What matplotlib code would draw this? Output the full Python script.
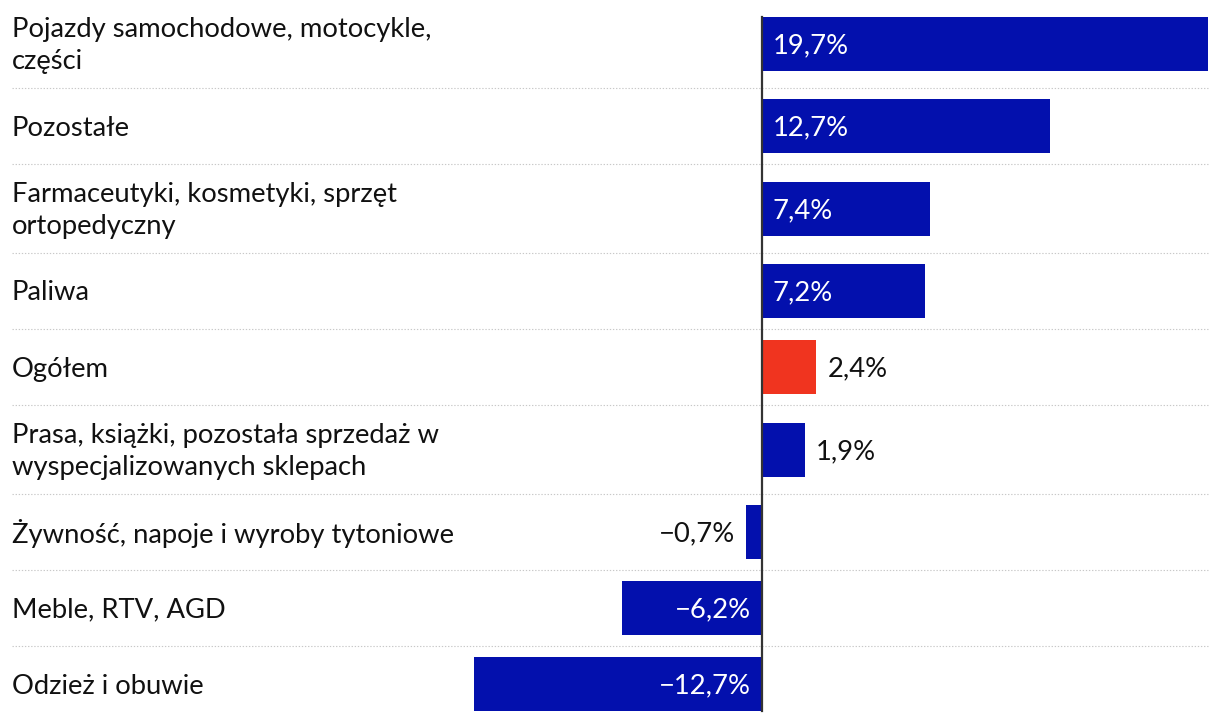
import matplotlib
matplotlib.use("Agg")
import matplotlib.pyplot as plt

plt.rcParams['font.family'] = ['Lato', 'DejaVu Sans']

# data
categories = [
    "Pojazdy samochodowe, motocykle,\nczęści",
    "Pozostałe",
    "Farmaceutyki, kosmetyki, sprzęt\nortopedyczny",
    "Paliwa",
    "Ogółem",
    "Prasa, książki, pozostała sprzedaż w\nwyspecjalizowanych sklepach",
    "Żywność, napoje i wyroby tytoniowe",
    "Meble, RTV, AGD",
    "Odzież i obuwie",
]
values = [19.7, 12.7, 7.4, 7.2, 2.4, 1.9, -0.7, -6.2, -12.7]
highlight = "Ogółem"

BLUE = '#0310ad'
RED = '#f0341f'
FS = 19.7

fig = plt.figure(figsize=(12.2, 7.22), dpi=100)
ax = fig.add_axes([0, 0, 1, 1])
ax.set_axis_off()

# px per percent point, zero line at x=762 px
scale = 22.64
ax.set_xlim(-762 / scale, (1220 - 762) / scale)
ax.set_ylim(722, 0)

# row layout (taller rows for two-line labels)
top = -1
centers, bounds = [], []
for cat in categories:
    h = 89 if "\n" in cat else 76
    centers.append(top + h / 2)
    top += h
    bounds.append(top)

bar_h = 54
colors = [RED if c == highlight else BLUE for c in categories]
ax.barh(centers, values, height=bar_h, color=colors, zorder=2)

x_left = 12 / scale - 762 / scale
x_right = max(values)
for b in bounds[:-1]:
    ax.plot([x_left, x_right], [b, b], color='#c8c8c8', lw=0.8,
            linestyle=(0, (1.2, 1.6)), zorder=1)

# zero line
ax.plot([0, 0], [centers[0] - bar_h / 2, centers[-1] + bar_h / 2],
        color='#333333', lw=1.6, zorder=3)

pad = 11 / scale
dy = 2  # small downward nudge for text
for cat, v, y in zip(categories, values, centers):
    ax.text(x_left, y + dy, cat, ha='left', va='center', fontsize=FS,
            color='#111111', linespacing=1.35)
    txt = f"{abs(v):.1f}%".replace(".", ",")
    if v < 0:
        txt = "\u2212" + txt
    inside = abs(v) > 5
    if v >= 0:
        if inside:
            ax.text(pad, y + dy, txt, ha='left', va='center', fontsize=FS, color='white', zorder=4)
        else:
            ax.text(v + pad, y + dy, txt, ha='left', va='center', fontsize=FS, color='#111111', zorder=4)
    else:
        if inside:
            ax.text(-pad, y + dy, txt, ha='right', va='center', fontsize=FS, color='white', zorder=4)
        else:
            ax.text(v - pad, y + dy, txt, ha='right', va='center', fontsize=FS, color='#111111', zorder=4)

fig.savefig("out.png", dpi=100)
